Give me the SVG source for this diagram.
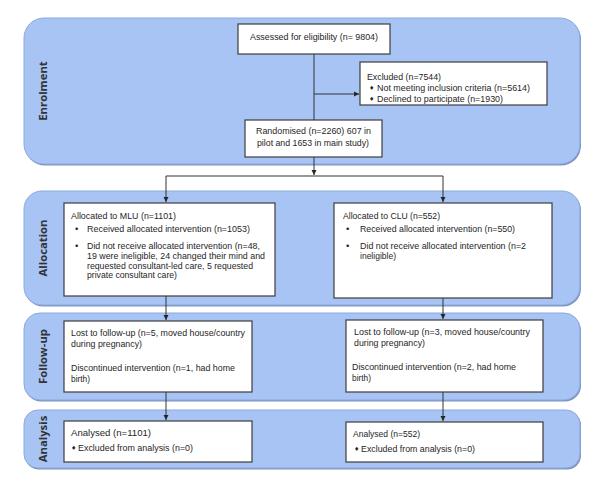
<svg xmlns="http://www.w3.org/2000/svg" width="600" height="490" viewBox="0 0 600 490">
<style>
.panel{fill:#a8c4f5;stroke:#8ca9dd;stroke-width:1}
.shadow{fill:#7b93c0}
.box{fill:#ffffff;stroke:#3c3c3c;stroke-width:1.2}
.t{font-family:"Liberation Sans",Arial,sans-serif;font-size:9.5px;fill:#262626}
.b{font-family:"DejaVu Sans",sans-serif;font-size:6px;fill:#262626}
.lbl{font-family:"Open Sans","DejaVu Sans",sans-serif;font-weight:bold;font-size:11.3px;fill:#333333}
.c{fill:none;stroke:#333333;stroke-width:1}
</style>
<defs>
<marker id="ah" markerWidth="6" markerHeight="6" refX="5" refY="3" orient="auto" markerUnits="userSpaceOnUse">
<path d="M0,0.5 L5,3 L0,5.5 Z" fill="#262626"/>
</marker>
</defs>
<rect width="600" height="490" fill="#ffffff"/>

<g id="panel-enrolment">
<rect class="shadow" x="25" y="19.5" width="556" height="146" rx="20"/>
<rect class="panel" x="24" y="18" width="556" height="146" rx="20"/>
<text class="lbl" transform="translate(46.5,91) rotate(-90)" text-anchor="middle">Enrolment</text>
</g>
<g id="panel-allocation">
<rect class="shadow" x="25" y="192.5" width="556" height="114" rx="18"/>
<rect class="panel" x="24" y="191" width="556" height="114" rx="18"/>
<text class="lbl" transform="translate(46.5,248) rotate(-90)" text-anchor="middle">Allocation</text>
</g>
<g id="panel-followup">
<rect class="shadow" x="25" y="314.5" width="556" height="87" rx="16"/>
<rect class="panel" x="24" y="313" width="556" height="87" rx="16"/>
<text class="lbl" transform="translate(46.5,356.5) rotate(-90)" text-anchor="middle">Follow-up</text>
</g>
<g id="panel-analysis">
<rect class="shadow" x="25" y="411.5" width="556" height="58" rx="14"/>
<rect class="panel" x="24" y="410" width="556" height="58" rx="14"/>
<text class="lbl" transform="translate(46.5,439) rotate(-90)" text-anchor="middle">Analysis</text>
</g>

<g id="connectors">
<path class="c" d="M314,54 V120"/>
<path class="c" d="M314,94 H359" marker-end="url(#ah)"/>
<path class="c" d="M314,157 V175" marker-end="url(#ah)"/>
<path class="c" d="M166,176 H443"/>
<path class="c" d="M166,176 V202" marker-end="url(#ah)"/>
<path class="c" d="M443,176 V202" marker-end="url(#ah)"/>
<path class="c" d="M166,296 V320" marker-end="url(#ah)"/>
<path class="c" d="M443,298 V319" marker-end="url(#ah)"/>
<path class="c" d="M166,392 V420" marker-end="url(#ah)"/>
<path class="c" d="M443,392 V421" marker-end="url(#ah)"/>
</g>

<g id="node-assessed">
<rect class="box" x="238" y="24" width="152" height="30"/>
<text class="t" x="250" y="40" textLength="128" lengthAdjust="spacingAndGlyphs">Assessed  for eligibility (n= 9804)</text>
</g>
<g id="node-excluded">
<rect class="box" x="360" y="62" width="187" height="43"/>
<text class="t" x="367" y="80" textLength="74" lengthAdjust="spacingAndGlyphs">Excluded (n=7544)</text>
<text class="b" x="369" y="90">♦</text>
<text class="t" x="377" y="91" textLength="153" lengthAdjust="spacingAndGlyphs">Not meeting inclusion  criteria (n=5614)</text>
<text class="b" x="369" y="101">♦</text>
<text class="t" x="377" y="102" textLength="126" lengthAdjust="spacingAndGlyphs">Declined to participate  (n=1930)</text>
</g>
<g id="node-randomised">
<rect class="box" x="245" y="120" width="137" height="37"/>
<text class="t" x="256" y="134" textLength="115" lengthAdjust="spacingAndGlyphs">Randomised (n=2260) 607 in</text>
<text class="t" x="257" y="146" textLength="112" lengthAdjust="spacingAndGlyphs">pilot and 1653 in main study)</text>
</g>

<g id="node-mlu">
<rect class="box" x="64" y="203" width="211" height="93"/>
<text class="t" x="71" y="219" textLength="105" lengthAdjust="spacingAndGlyphs">Allocated to MLU (n=1101)</text>
<text class="t" x="75" y="232">•</text>
<text class="t" x="87" y="232" textLength="163" lengthAdjust="spacingAndGlyphs">Received allocated  intervention (n=1053)</text>
<text class="t" x="75" y="249">•</text>
<text class="t" x="87" y="249" textLength="173" lengthAdjust="spacingAndGlyphs">Did not receive allocated intervention (n=48,</text>
<text class="t" x="87" y="259" textLength="178" lengthAdjust="spacingAndGlyphs">19 were ineligible,  24 changed their mind and</text>
<text class="t" x="87" y="268.5" textLength="166" lengthAdjust="spacingAndGlyphs">requested consultant-led care, 5 requested</text>
<text class="t" x="87" y="278" textLength="90" lengthAdjust="spacingAndGlyphs">private consultant  care)</text>
</g>
<g id="node-clu">
<rect class="box" x="334" y="203" width="218" height="95"/>
<text class="t" x="343" y="219" textLength="97" lengthAdjust="spacingAndGlyphs">Allocated to CLU (n=552)</text>
<text class="t" x="346" y="232">•</text>
<text class="t" x="360" y="232" textLength="155" lengthAdjust="spacingAndGlyphs">Received allocated  intervention (n=550)</text>
<text class="t" x="346" y="249">•</text>
<text class="t" x="360" y="249" textLength="166" lengthAdjust="spacingAndGlyphs">Did not receive allocated intervention (n=2</text>
<text class="t" x="360" y="259" textLength="36" lengthAdjust="spacingAndGlyphs">ineligible)</text>
</g>

<g id="node-followup-mlu">
<rect class="box" x="64" y="321" width="188" height="71"/>
<text class="t" x="71" y="336" textLength="174" lengthAdjust="spacingAndGlyphs">Lost to follow-up (n=5, moved house/country</text>
<text class="t" x="71" y="347" textLength="71" lengthAdjust="spacingAndGlyphs">during pregnancy)</text>
<text class="t" x="71" y="371" textLength="164" lengthAdjust="spacingAndGlyphs">Discontinued intervention (n=1, had home</text>
<text class="t" x="71" y="382" textLength="19" lengthAdjust="spacingAndGlyphs">birth)</text>
</g>
<g id="node-followup-clu">
<rect class="box" x="346" y="320" width="197" height="72"/>
<text class="t" x="354" y="335" textLength="176" lengthAdjust="spacingAndGlyphs">Lost to follow-up (n=3, moved house/country</text>
<text class="t" x="354" y="346" textLength="71" lengthAdjust="spacingAndGlyphs">during pregnancy)</text>
<text class="t" x="352" y="370" textLength="164" lengthAdjust="spacingAndGlyphs">Discontinued intervention (n=2, had home</text>
<text class="t" x="352" y="381" textLength="19" lengthAdjust="spacingAndGlyphs">birth)</text>
</g>

<g id="node-analysis-mlu">
<rect class="box" x="64" y="421" width="188" height="41"/>
<text class="t" x="71" y="436" textLength="80" lengthAdjust="spacingAndGlyphs">Analysed (n=1101)</text>
<text class="b" x="71" y="450">♦</text>
<text class="t" x="78" y="451" textLength="115" lengthAdjust="spacingAndGlyphs">Excluded from analysis (n=0)</text>
</g>
<g id="node-analysis-clu">
<rect class="box" x="346" y="422" width="197" height="40"/>
<text class="t" x="353" y="437" textLength="67" lengthAdjust="spacingAndGlyphs">Analysed (n=552)</text>
<text class="b" x="354" y="451">♦</text>
<text class="t" x="361" y="452" textLength="114" lengthAdjust="spacingAndGlyphs">Excluded from analysis (n=0)</text>
</g>
</svg>
